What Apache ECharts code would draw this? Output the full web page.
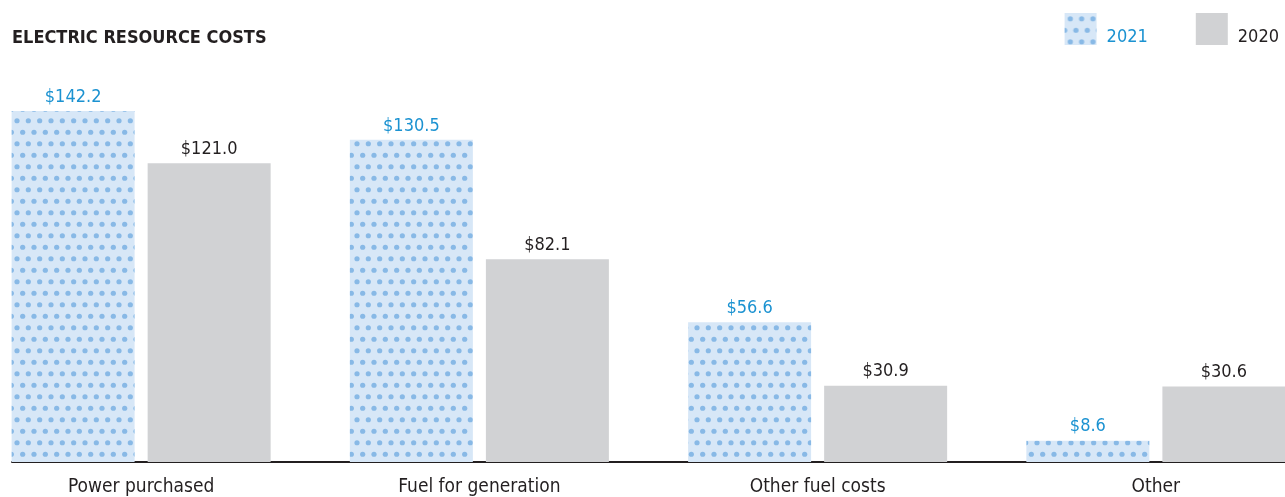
<!DOCTYPE html>
<html>
<head>
<meta charset="utf-8">
<script src="https://cdn.jsdelivr.net/npm/echarts@6/dist/echarts.min.js"></script>
<style>
  html, body { margin: 0; padding: 0; background: #fff; }
  #chart { width: 1285px; height: 497px; }
</style>
</head>
<body>
<div id="chart"></div>
<script>
  // data ($ millions)
  const categories = ['Power purchased', 'Fuel for generation', 'Other fuel costs', 'Other']
  const costs2021 = [142.2, 130.5, 56.6, 8.6]
  const costs2020 = [121.0, 82.1, 30.9, 30.6]

  const FONT = '"DejaVu Sans Condensed", "DejaVu Sans", sans-serif'
  const BLUE = '#1b92d1'
  const DARK = '#231f20'

  // dotted fill used for 2021
  function dotPattern() {
    const c = document.createElement('canvas')
    c.width = 34
    c.height = 46
    const ctx = c.getContext('2d')
    ctx.fillStyle = '#d7e7f7'
    ctx.fillRect(0, 0, c.width, c.height)
    ctx.fillStyle = '#88b9e6'
    const sx = 34 / 3
    for (let r = 0; r < 4; r++) {
      const y = 5.75 + r * 11.5
      const off = r % 2 ? 0 : sx / 2
      for (let k = -1; k < 4; k++) {
        ctx.beginPath()
        ctx.arc(off + k * sx, y, 2.6, 0, Math.PI * 2)
        ctx.fill()
      }
    }
    return { image: c, repeat: 'repeat' }
  }
  const dots = dotPattern()

  const valueLabel = color => ({
    show: true,
    position: 'top',
    distance: 5,
    color: color,
    fontFamily: FONT,
    fontSize: 18,
    formatter: p => '$' + p.value.toFixed(1)
  })

  const chart = echarts.init(document.getElementById('chart'))
  chart.setOption({
    animation: false,
    title: {
      text: 'ELECTRIC RESOURCE COSTS',
      left: 12,
      top: 29,
      padding: 0,
      textStyle: { fontFamily: FONT, fontSize: 18, fontWeight: 'bold', color: DARK }
    },
    legend: {
      right: 6,
      top: 13,
      padding: 0,
      icon: 'rect',
      itemWidth: 32,
      itemHeight: 32,
      itemGap: 48,
      formatter: '{t|{name}}',
      textStyle: {
        fontFamily: FONT,
        fontSize: 18,
        rich: { t: { fontFamily: FONT, fontSize: 18, padding: [17, 0, 0, 5] } }
      },
      data: [
        { name: '2021', textStyle: { color: BLUE } },
        { name: '2020', textStyle: { color: DARK } }
      ]
    },
    grid: [
      { left: -28, right: -40, top: 67, bottom: 35, outerBoundsMode: 'none' },
      { left: 12, right: 0, top: 67, bottom: 35, outerBoundsMode: 'none' }
    ],
    xAxis: [
      {
        type: 'category',
        gridIndex: 0,
        data: categories,
        axisLine: { show: false },
        axisTick: { show: false },
        axisLabel: { margin: 16, color: DARK, fontFamily: FONT, fontSize: 19 }
      },
      {
        type: 'category',
        gridIndex: 1,
        data: [''],
        axisLine: { show: true, lineStyle: { color: DARK, width: 2 } },
        axisTick: { show: false },
        axisLabel: { show: false }
      }
    ],
    yAxis: [
      { type: 'value', gridIndex: 0, min: 0, max: 160, show: false },
      { type: 'value', gridIndex: 1, min: 0, max: 160, show: false }
    ],
    series: [
      {
        name: '2021',
        type: 'bar',
        data: costs2021,
        barWidth: 123,
        barGap: '10.6%',
        itemStyle: { color: dots },
        label: valueLabel(BLUE)
      },
      {
        name: '2020',
        type: 'bar',
        data: costs2020,
        barWidth: 123,
        barGap: '10.6%',
        itemStyle: { color: '#d1d2d4' },
        label: valueLabel(DARK)
      }
    ]
  })
</script>
</body>
</html>
